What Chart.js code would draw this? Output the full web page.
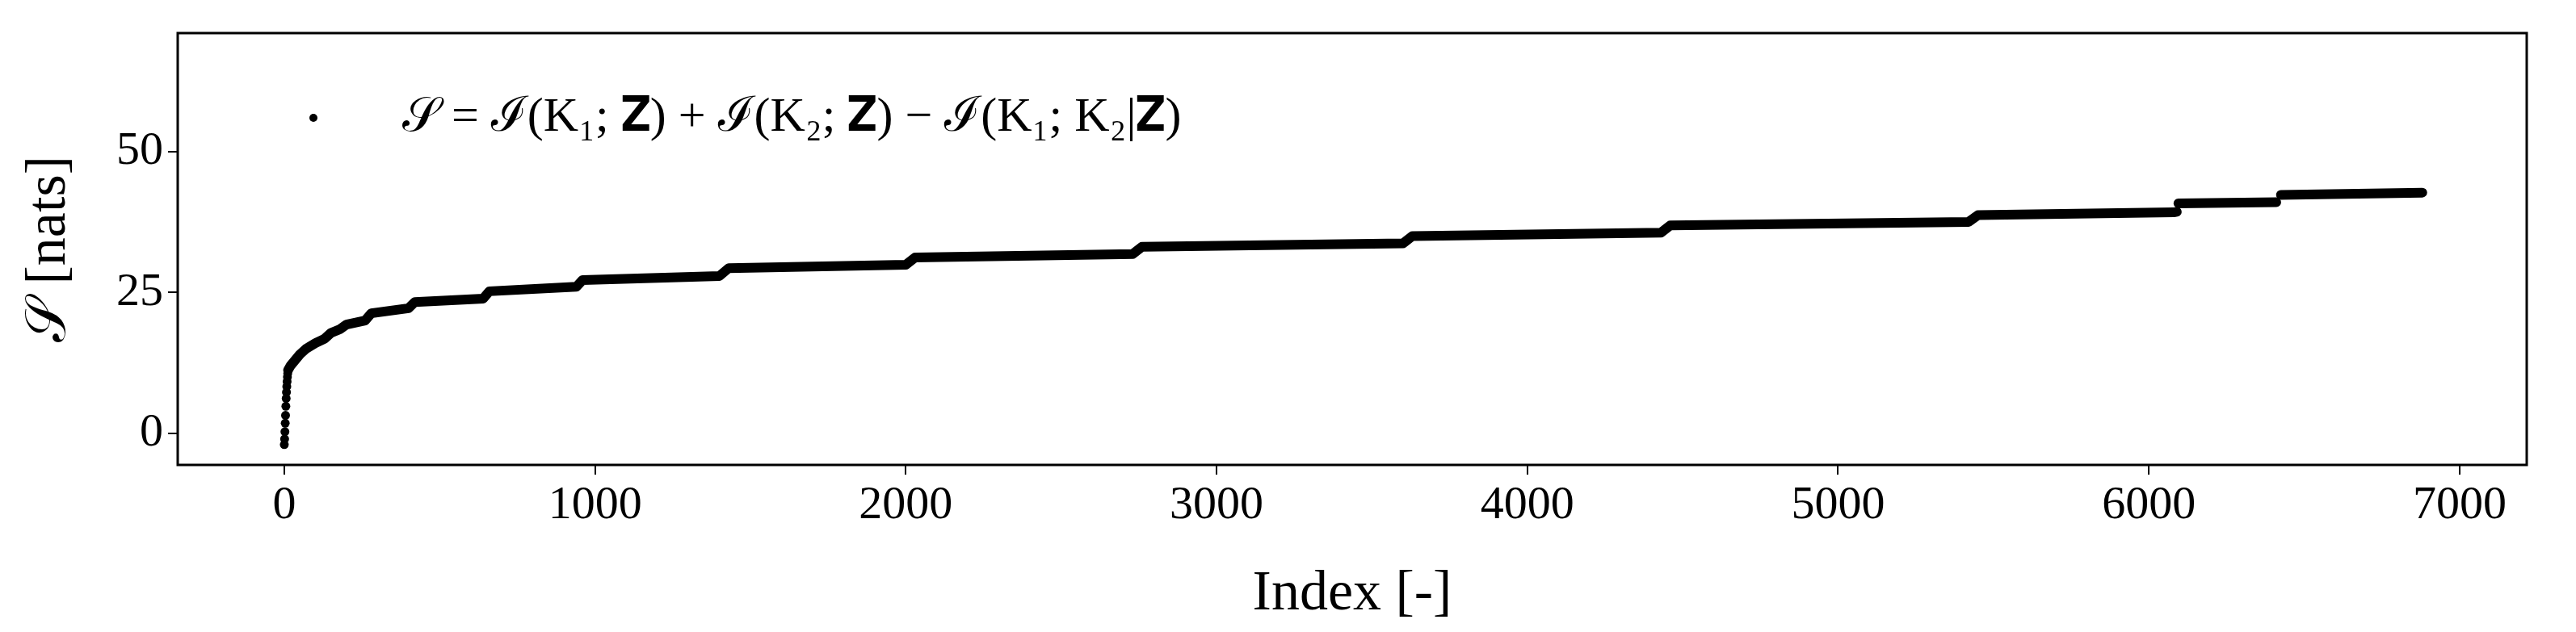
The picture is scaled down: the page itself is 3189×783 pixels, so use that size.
<!DOCTYPE html>
<html><head><meta charset="utf-8">
<script src="https://cdn.jsdelivr.net/npm/chart.js@4"></script>
<style>html,body{margin:0;padding:0;background:#fff}#c{display:block}</style>
</head><body>
<canvas id="c" width="3189" height="783"></canvas>
<script>
// initial separate dots
const dotIdx = [0,1,2,3,4,5,6,7,8,9,10,11,12];
const dotVal = [-2,-1,0.3,1.8,3.2,4.8,6.2,7.3,8.3,9.2,10,10.6,11.2];
// step curve vertices
const curveIdx = [12,20,35,50,70,100,130,150,180,200,260,280,400,420,640,660,940,960,1400,1430,2000,2030,2730,2760,3600,3630,4430,4460,5420,5450,6080,6090];
const curveVal = [11.2,12,13,14,15,16,16.8,17.8,18.5,19.3,20,21.3,22.2,23.3,23.9,25.2,26,27.2,27.9,29.3,29.9,31.2,31.8,33.1,33.7,35,35.6,36.9,37.5,38.7,39.2,39.3];
const seg2Idx = [6095,6410];
const seg2Val = [40.8,41];
const seg3Idx = [6425,6880];
const seg3Val = [42.3,42.7];
const xTicks = [0,1000,2000,3000,4000,5000,6000,7000];
const yTicks = [0,25,50];
const legendText = '𝒮 = ℐ(K₁; 𝐙) + ℐ(K₂; 𝐙) − ℐ(K₁; K₂|𝐙)';

const pts = (xs, ys) => xs.map((x,i)=>({x, y: ys[i]}));
const FONT = '"Liberation Serif", "DejaVu Serif", serif';
const lineDs = (d) => ({data:d, showLine:true, borderColor:'#000', borderWidth:12, borderCapStyle:'round', borderJoinStyle:'round', pointRadius:0, backgroundColor:'#000'});

const frame = {id:'frame', afterDraw(c){const a=c.chartArea,x=c.ctx;x.save();x.strokeStyle='#000';x.lineWidth=3;x.strokeRect(a.left,a.top,a.right-a.left,a.bottom-a.top);
 x.fillStyle='#000';x.beginPath();x.arc(388,146,5,0,Math.PI*2);x.fill();
 x.font='60px '+FONT;x.textBaseline='middle';x.fillText(legendText,498,146);x.restore();}};

new Chart(document.getElementById('c'), {
  type:'scatter',
  data:{datasets:[
    {data:pts(dotIdx,dotVal), pointRadius:5.5, pointBackgroundColor:'#000', pointBorderWidth:0, showLine:false},
    lineDs(pts(curveIdx,curveVal)), lineDs(pts(seg2Idx,seg2Val)), lineDs(pts(seg3Idx,seg3Val))
  ]},
  options:{responsive:false, animation:false,
    layout:{padding:{top:41,right:61,left:0,bottom:0}},
    plugins:{legend:{display:false}, tooltip:{enabled:false}},
    scales:{
      x:{type:'linear', min:-343, max:7216,
        afterBuildTicks:s=>{s.ticks=xTicks.map(v=>({value:v}));},
        afterFit:s=>{s.height=207;},
        grid:{drawOnChartArea:false, drawTicks:true, tickLength:12, color:'#000', lineWidth:2},
        border:{display:false},
        ticks:{color:'#000', font:{family:FONT,size:58}, padding:4, maxRotation:0, callback:v=>String(v)},
        title:{display:true, text:'Index [-]', color:'#000', font:{family:FONT,size:70}, padding:{top:2}}},
      y:{min:-5.6, max:71,
        afterBuildTicks:s=>{s.ticks=yTicks.map(v=>({value:v}));},
        afterFit:s=>{s.width=220;},
        grid:{drawOnChartArea:false, drawTicks:true, tickLength:12, color:'#000', lineWidth:2},
        border:{display:false},
        ticks:{color:'#000', font:{family:FONT,size:58}, padding:6, callback:v=>String(v)},
        title:{display:true, text:'𝒮 [nats]', color:'#000', font:{family:FONT,size:70}, padding:{top:20,bottom:0}}}
    }},
  plugins:[frame]
});
</script></body></html>
